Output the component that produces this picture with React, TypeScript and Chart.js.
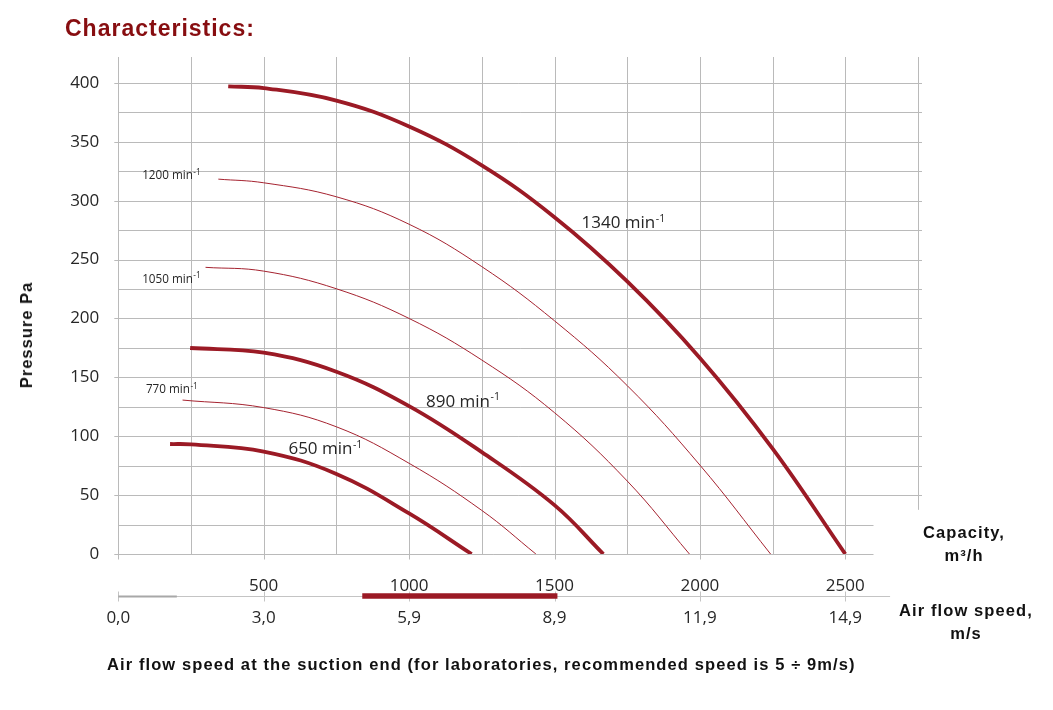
import React, { useEffect, useRef } from 'react';
import { Chart, registerables } from 'chart.js';

Chart.register(...registerables);

// ---------- data ----------
const rpm1340Capacity = [378, 500, 750, 1000, 1250, 1500, 1750, 2000, 2250, 2500];
const rpm1340Pressure = [397, 395.6, 385, 363, 330, 286, 231.5, 166.5, 89.5, 0];

const rpm1200Capacity = [344, 500, 750, 1000, 1250, 1500, 1750, 2000, 2243];
const rpm1200Pressure = [318.3, 315.2, 303.3, 280, 244, 198, 143, 75.5, 0];

const rpm1050Capacity = [300, 500, 750, 1000, 1250, 1500, 1750, 1964];
const rpm1050Pressure = [243.4, 240.2, 225.2, 200, 164.7, 120, 62, 0];

const rpm890Capacity = [247, 500, 750, 1000, 1250, 1500, 1668];
const rpm890Pressure = [174.9, 170.9, 154.8, 125.6, 86.5, 41.5, 0];

const rpm770Capacity = [221, 500, 750, 1000, 1250, 1436];
const rpm770Pressure = [130.7, 124.3, 108, 77, 37, 0];

const rpm650Capacity = [178, 250, 500, 750, 1000, 1215];
const rpm650Pressure = [93.4, 93.1, 87, 68, 34.5, 0];

const curveNames = ['1340', '1200', '1050', '890', '770', '650'];
const mainCurves = ['1340', '890', '650'];

// label anchors (capacity, pressure) for each curve's name
const labelCapacity = [1593, 82, 82, 1058, 95, 585];
const labelPressure = [276.5, 318, 230.3, 125.2, 136.4, 84.5];

const capacityTicks = [500, 1000, 1500, 2000, 2500];
const speedTickCapacity = [0, 500, 1000, 1500, 2000, 2500];
const speedTickLabels = ['0,0', '3,0', '5,9', '8,9', '11,9', '14,9'];
const pressureTicks = [0, 50, 100, 150, 200, 250, 300, 350, 400];
const capacityGrid = [0, 250, 500, 750, 1000, 1250, 1500, 1750, 2000, 2250, 2500, 2750];
const pressureGrid = [0, 25, 50, 75, 100, 125, 150, 175, 200, 225, 250, 275, 300, 325, 350, 375, 400];
const recommendedSpeed = [5, 9]; // m/s
const stubSpeed = [0, 1.2]; // m/s
const speedPerCapacity = 14.9 / 2500; // m/s per m3/h

const X_MAX = 2750;
const Y_MAX = 422;

// ---------- styles ----------
const THICK = '#9b1a25';
const THIN = '#a52330';
const GRID = '#bababa';
const TEXT = '#262626';
const TICK_FONT = '"Open Sans", sans-serif';

const series = [
  [rpm1340Capacity, rpm1340Pressure],
  [rpm1200Capacity, rpm1200Pressure],
  [rpm1050Capacity, rpm1050Pressure],
  [rpm890Capacity, rpm890Pressure],
  [rpm770Capacity, rpm770Pressure],
  [rpm650Capacity, rpm650Pressure],
];

const decorPlugin = {
  id: 'decor',
  beforeDatasetsDraw(chart: any) {
    const { ctx, scales } = chart;
    const x = scales.x;
    const y = scales.y;
    const x2 = scales.x2;
    ctx.save();
    ctx.lineWidth = 1;
    ctx.strokeStyle = GRID;
    const top = y.getPixelForValue(Y_MAX);
    const base = Math.round(y.getPixelForValue(0)) + 0.5;
    const seg = (a: number, b: number, c: number, d: number) => {
      ctx.beginPath();
      ctx.moveTo(a, b);
      ctx.lineTo(c, d);
      ctx.stroke();
    };
    for (const v of capacityGrid) {
      const px = Math.round(x.getPixelForValue(v)) + 0.5;
      let yEnd = base + (v % 500 === 0 ? 5 : 0);
      if (v === X_MAX) yEnd = y.getPixelForValue(37.5);
      seg(px, top, px, yEnd);
    }
    for (const p of pressureGrid) {
      const py = Math.round(y.getPixelForValue(p)) + 0.5;
      const x0 = x.getPixelForValue(0) - (p % 50 === 0 ? 4 : 0);
      const x1 = p < 50 ? x.getPixelForValue(2597) : x.getPixelForValue(X_MAX) + 4;
      seg(x0, py, x1, py);
    }
    // speed axis
    const ay = Math.round(x2.top) + 0.5;
    ctx.strokeStyle = '#c4c4c4';
    seg(x.getPixelForValue(0), ay, x.getPixelForValue(2654), ay);
    for (const v of speedTickCapacity) {
      const px = Math.round(x.getPixelForValue(v)) + 0.5;
      seg(px, ay - 5, px, ay + 5);
    }
    ctx.strokeStyle = '#a8a8a8';
    ctx.lineWidth = 2;
    seg(x.getPixelForValue(stubSpeed[0] / speedPerCapacity), ay, x.getPixelForValue(stubSpeed[1] / speedPerCapacity), ay);
    ctx.strokeStyle = THICK;
    ctx.lineWidth = 5.5;
    seg(x.getPixelForValue(recommendedSpeed[0] / speedPerCapacity), ay - 0.5, x.getPixelForValue(recommendedSpeed[1] / speedPerCapacity), ay - 0.5);
    ctx.restore();
  },
  afterDatasetsDraw(chart: any) {
    const { ctx, scales } = chart;
    const x = scales.x;
    const y = scales.y;
    ctx.save();
    ctx.fillStyle = TEXT;
    ctx.textBaseline = 'alphabetic';
    ctx.textAlign = 'left';
    curveNames.forEach((name, i) => {
      const big = mainCurves.includes(name);
      const size = big ? 17 : 11.7;
      const px = x.getPixelForValue(labelCapacity[i]);
      const py = y.getPixelForValue(labelPressure[i]);
      ctx.font = `${size}px ${TICK_FONT}`;
      const main = `${name} min`;
      ctx.fillText(main, px, py);
      const w = ctx.measureText(main).width;
      const sub = size * (big ? 0.62 : 0.7);
      ctx.font = `${sub}px ${TICK_FONT}`;
      ctx.fillText('-1', px + w + 0.5, py - size * 0.38);
    });
    ctx.restore();
  },
};

export default function App() {
  const ref = useRef<HTMLCanvasElement | null>(null);

  useEffect(() => {
    document.body.style.margin = '0';
    const canvas = ref.current;
    if (!canvas) return;
    const chart = new Chart(canvas, {
      type: 'line',
      data: {
        datasets: series.map(([cap, p], i) => {
          const main = mainCurves.includes(curveNames[i]);
          return {
            label: `${curveNames[i]} min-1`,
            data: cap.map((c, j) => ({ x: c, y: p[j] })),
            borderColor: main ? THICK : THIN,
            borderWidth: main ? 3.8 : 1,
            borderCapStyle: 'butt',
            pointRadius: 0,
            tension: 0.4,
            fill: false,
          };
        }),
      },
      options: {
        responsive: false,
        animation: false,
        devicePixelRatio: 1,
        layout: { padding: { left: 0, right: 135, top: 57, bottom: 78 } },
        plugins: { legend: { display: false }, tooltip: { enabled: false } },
        scales: {
          x: {
            type: 'linear',
            position: 'bottom',
            weight: 1,
            min: 0,
            max: X_MAX,
            grid: { display: false, drawTicks: false },
            border: { display: false },
            afterBuildTicks: (s: any) => {
              s.ticks = capacityTicks.map((v) => ({ value: v }));
            },
            afterFit: (s: any) => {
              s.height = 42;
            },
            ticks: {
              autoSkip: false,
              maxRotation: 0,
              padding: 21.5,
              color: TEXT,
              font: { family: TICK_FONT, size: 17 },
              callback: (v: any) => String(v),
            },
          },
          x2: {
            type: 'linear',
            position: 'bottom',
            weight: 2,
            min: 0,
            max: X_MAX,
            grid: { display: false, drawTicks: false },
            border: { display: false },
            afterBuildTicks: (s: any) => {
              s.ticks = speedTickCapacity.map((v) => ({ value: v }));
            },
            afterFit: (s: any) => {
              s.height = 36;
            },
            ticks: {
              autoSkip: false,
              maxRotation: 0,
              padding: 12,
              color: TEXT,
              font: { family: TICK_FONT, size: 17 },
              callback: (v: any) => {
                const idx = speedTickCapacity.indexOf(Number(v));
                return idx >= 0 ? speedTickLabels[idx] : '';
              },
            },
          },
          y: {
            type: 'linear',
            min: 0,
            max: Y_MAX,
            grid: { display: false, drawTicks: false },
            border: { display: false },
            afterBuildTicks: (s: any) => {
              s.ticks = pressureTicks.map((v) => ({ value: v }));
            },
            afterFit: (s: any) => {
              s.width = 118.3;
            },
            ticks: {
              padding: 19,
              color: TEXT,
              font: { family: TICK_FONT, size: 17 },
              callback: (v: any) => String(v),
            },
          },
        },
      } as any,
      plugins: [decorPlugin],
    });
    return () => chart.destroy();
  }, []);

  const bold = '"Liberation Sans", Arial, sans-serif';
  return (
    <div style={{ position: 'absolute', left: 0, top: 0, width: 1053, height: 710, background: '#fff', overflow: 'hidden' }}>
      <canvas ref={ref} width={1053} height={710} style={{ position: 'absolute', left: 0, top: 0 }} />
      <div
        style={{
          position: 'absolute', left: 65, top: 17, fontFamily: bold, fontWeight: 700, fontSize: 23,
          lineHeight: '23px', letterSpacing: 1, color: '#870d10', whiteSpace: 'nowrap',
        }}
      >
        Characteristics:
      </div>
      <div
        style={{
          position: 'absolute', left: 26, top: 335, transform: 'translate(-50%, -50%) rotate(-90deg)',
          fontFamily: bold, fontWeight: 700, fontSize: 16.5, lineHeight: '16px', letterSpacing: 1,
          color: '#111', whiteSpace: 'nowrap',
        }}
      >
        Pressure Pa
      </div>
      <div
        style={{
          position: 'absolute', left: 964, top: 521, transform: 'translateX(-50%)', textAlign: 'center',
          fontFamily: bold, fontWeight: 700, fontSize: 16.5, lineHeight: '23.4px', letterSpacing: 1.1,
          color: '#111', whiteSpace: 'nowrap',
        }}
      >
        Capacity,<br />m³/h
      </div>
      <div
        style={{
          position: 'absolute', left: 966, top: 598.6, transform: 'translateX(-50%)', textAlign: 'center',
          fontFamily: bold, fontWeight: 700, fontSize: 16.5, lineHeight: '23.4px', letterSpacing: 1.1,
          color: '#111', whiteSpace: 'nowrap',
        }}
      >
        Air flow speed,<br />m/s
      </div>
      <div
        style={{
          position: 'absolute', left: 107, top: 655.5, fontFamily: bold, fontWeight: 700, fontSize: 16.5,
          lineHeight: '16.5px', letterSpacing: 1.1, color: '#111', whiteSpace: 'nowrap',
        }}
      >
        Air flow speed at the suction end (for laboratories, recommended speed is 5 ÷ 9m/s)
      </div>
    </div>
  );
}
